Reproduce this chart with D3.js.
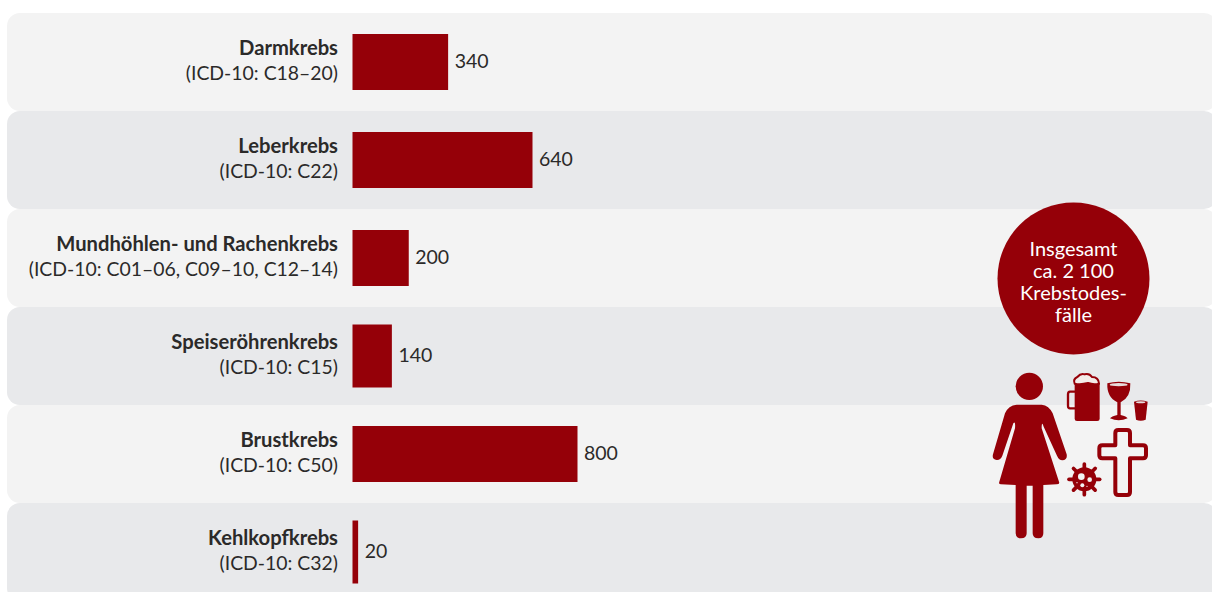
<!DOCTYPE html>
<html>
<head>
  <meta charset="utf-8">
  <title>Krebstodesfälle Frauen</title>
  <script src="https://d3js.org/d3.v7.min.js"></script>
  <style>
    html, body { margin: 0; padding: 0; background: #fff; overflow: hidden; }
    text { font-family: "Lato", "Noto Sans", sans-serif; }
  </style>
</head>
<body>
  <div id="chart"></div>
  <script type="text/javascript">

  var cancers = ["Darmkrebs", "Leberkrebs", "Mundhöhlen- und Rachenkrebs", "Speiseröhrenkrebs", "Brustkrebs", "Kehlkopfkrebs"];
  var icdCodes = ["(ICD-10: C18–20)", "(ICD-10: C22)", "(ICD-10: C01–06, C09–10, C12–14)", "(ICD-10: C15)", "(ICD-10: C50)", "(ICD-10: C32)"];
  var deaths = [340, 640, 200, 140, 800, 20];
  var totalLines = ["Insgesamt", "ca. 2 100", "Krebstodes-", "fälle"];

  var red = "#950008", textColor = "#2b2a29";
  var tallBars = ["Speiseröhrenkrebs", "Kehlkopfkrebs"];   // these two are drawn taller in the original

  var svg = d3.select("#chart").append("svg").attr("width", 1212).attr("height", 592).style("display", "block");

  var y = d3.scaleBand().domain(cancers).range([13, 601]);
  var x = d3.scaleLinear().domain([0, 800]).range([352.5, 577.5]);

  // row backgrounds
  svg.selectAll("rect.row").data(cancers).enter().append("rect")
    .attr("class", "row")
    .attr("x", 7).attr("width", 1210)
    .attr("y", function(d){ return y(d); })
    .attr("height", y.bandwidth())
    .attr("rx", 13)
    .attr("fill", function(d, i){ return i % 2 ? "#e8e9eb" : "#f3f3f3"; });

  function mid(d){ return y(d) + y.bandwidth() / 2 - 1; }
  function barH(d){ return tallBars.indexOf(d) >= 0 ? 63 : 56; }

  // bars
  svg.selectAll("rect.bar").data(cancers).enter().append("rect")
    .attr("class", "bar")
    .attr("x", x(0))
    .attr("y", function(d){ return mid(d) - barH(d) / 2 + 1; })
    .attr("width", function(d, i){ return x(deaths[i]) - x(0); })
    .attr("height", barH)
    .attr("fill", red);

  // values
  svg.selectAll("text.value").data(cancers).enter().append("text")
    .attr("class", "value")
    .attr("x", function(d, i){ return x(deaths[i]) + 6.5; })
    .attr("y", function(d){ return mid(d) + 6.5; })
    .attr("font-size", 19.5)
    .attr("fill", textColor)
    .text(function(d, i){ return deaths[i]; });

  // labels
  svg.selectAll("text.name").data(cancers).enter().append("text")
    .attr("class", "name")
    .attr("x", 338).attr("text-anchor", "end")
    .attr("y", function(d){ return mid(d) - 6; })
    .attr("font-size", 20.2).attr("font-weight", 700)
    .attr("fill", textColor)
    .text(function(d){ return d; });

  svg.selectAll("text.icd").data(cancers).enter().append("text")
    .attr("class", "icd")
    .attr("x", 338).attr("text-anchor", "end")
    .attr("y", function(d){ return mid(d) + 19; })
    .attr("font-size", 19.4)
    .attr("fill", textColor)
    .text(function(d, i){ return icdCodes[i]; });

  // total badge
  svg.append("circle").attr("cx", 1073.5).attr("cy", 278.5).attr("r", 76).attr("fill", red);
  svg.selectAll("text.total").data(totalLines).enter().append("text")
    .attr("class", "total")
    .attr("x", 1073.5).attr("text-anchor", "middle")
    .attr("y", function(d, i){ return 256 + i * 22; })
    .attr("font-size", 20)
    .attr("fill", "#fff")
    .text(function(d){ return d; });

  // woman icon
  var woman = svg.append("g").attr("transform", "translate(985,365) scale(0.3333)").attr("fill", red);
  woman.append("circle").attr("cx", 133).attr("cy", 64).attr("r", 41);
  woman.append("path").attr("d",
    "M95,119 L170,119 Q192,121 203,145 L245,268 Q248,284 232,286 Q222,286 216,272 L176,185 Q170,165 170,190 " +
    "L222,350 Q225,358 215,358 L175,360 L175,505 Q175,520 160,520 Q143,520 143,505 L143,362 L125,362 L125,505 " +
    "Q125,520 108,520 Q92,520 92,505 L92,360 L48,358 Q40,358 43,350 L90,190 Q92,165 85,175 L52,272 Q46,286 35,285 " +
    "Q20,283 24,268 L60,145 Q70,121 95,119 Z");

  // drinks
  var drinks = svg.append("g").attr("transform", "translate(1060,365) scale(0.3333)");
  drinks.append("path").attr("fill", "none").attr("stroke", red).attr("stroke-width", 7)
    .attr("d", "M45,80 L30,80 Q24,80 24,88 L24,122 Q24,130 30,130 L45,130");
  drinks.append("rect").attr("x", 44).attr("y", 52).attr("width", 75).attr("height", 116).attr("rx", 7).attr("fill", red);
  drinks.append("path").attr("fill", "#f3ece9").attr("stroke", red).attr("stroke-width", 6)
    .attr("d", "M44,56 Q38,42 52,36 Q62,24 74,28 Q88,24 96,36 Q116,36 117,56 Q100,60 84,54 Q62,60 44,56 Z");
  drinks.append("path").attr("fill", red)
    .attr("d", "M142,55 Q176,45 211,55 Q213,97 182,112 L182,150 Q200,154 203,160 Q176,172 150,160 Q154,154 172,150 L172,112 Q140,97 142,55 Z");
  drinks.append("ellipse").attr("cx", 176).attr("cy", 59).attr("rx", 27).attr("ry", 5).attr("fill", "#e8dcdc");
  drinks.append("path").attr("fill", red)
    .attr("d", "M222,110 Q242,103 263,110 L257,164 Q242,170 228,164 Z");
  drinks.append("ellipse").attr("cx", 242).attr("cy", 112).attr("rx", 14).attr("ry", 3).attr("fill", "#e8dcdc");

  // cross and virus
  var death = svg.append("g").attr("transform", "translate(1060,425) scale(0.3333)");
  death.append("path").attr("fill", "none").attr("stroke", red).attr("stroke-width", 12).attr("stroke-linejoin", "round")
    .attr("d", "M166,61 L166,24 Q166,15 175,15 L201,15 Q210,15 210,24 L210,61 L249,61 Q258,61 258,70 L258,91 Q258,100 249,100 " +
      "L210,100 L210,201 Q210,210 201,210 L175,210 Q166,210 166,201 L166,100 L127,100 Q118,100 118,91 L118,70 Q118,61 127,61 Z");

  var virus = death.append("g").attr("transform", "translate(73,163)");
  virus.append("circle").attr("r", 36).attr("fill", red);
  virus.selectAll("line").data(d3.range(8)).enter().append("line")
    .attr("x2", function(d){ return 46 * Math.cos(d * Math.PI / 4); })
    .attr("y2", function(d){ return 46 * Math.sin(d * Math.PI / 4); })
    .attr("stroke", red).attr("stroke-width", 11).attr("stroke-linecap", "round");
  virus.append("circle").attr("cx", -9).attr("cy", -8).attr("r", 10).attr("fill", "#f3f3f3");
  virus.append("circle").attr("cx", 16).attr("cy", 1).attr("r", 7).attr("fill", "#f3f3f3");
  virus.append("circle").attr("cx", -6).attr("cy", 18).attr("r", 6).attr("fill", "#f3f3f3");
  virus.append("circle").attr("cx", 8).attr("cy", 21).attr("r", 2).attr("fill", "#f3f3f3");
  virus.append("circle").attr("cx", -22).attr("cy", 10).attr("r", 2).attr("fill", "#f3f3f3");

  </script>
</body>
</html>
